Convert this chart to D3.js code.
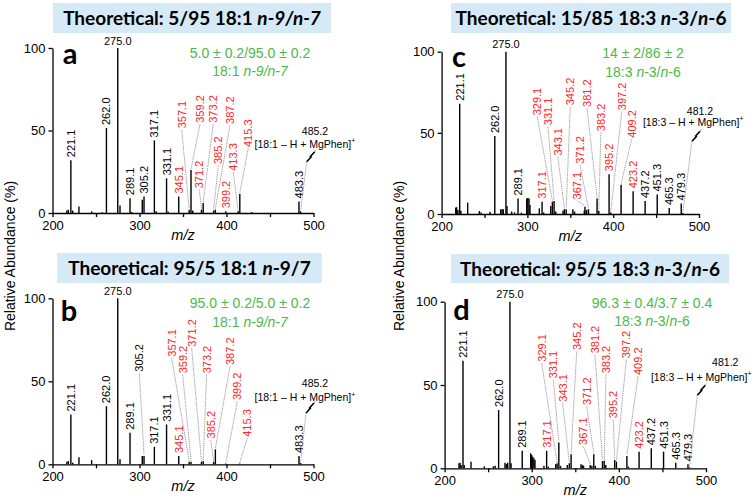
<!DOCTYPE html>
<html><head><meta charset="utf-8">
<script src="https://cdn.jsdelivr.net/npm/d3@7"></script>
<style>body{margin:0;background:#fff}svg{display:block}</style>
</head><body>
<svg id="c" width="756" height="501"></svg>
<script>
// ================= DATA =================
const xTicks = [200, 300, 400, 500];
const xMinorTicks = [250, 350, 450];
const yTicks = [0, 50, 100];
const yTitle = "Relative Abundance (%)";
const xTitle = "m/z";

// peaks: [m/z, relative abundance %]
const peaksA = [[216.5,1.5],[218.2,2],[221.1,32],[223.2,1.5],[230.4,4],[245.0,1],[257,0.5],[262.0,51.5],[275.0,100],[277.6,4.5],[289.1,9],[291,0.6],[303.2,8],[305.2,10],[317.1,44],[319.1,1],[331.1,21],[333,0.8],[345.1,10],[357.1,2],[359.2,26],[361.2,1.5],[371.2,2],[373.2,6],[385.2,1.5],[387.2,2],[399.2,1],[413.3,1],[415.3,11.5],[429.0,0.6],[483.3,7],[485.2,1]];
const peaksB = [[216.5,1.5],[218.2,2],[221.1,30],[223.2,1],[230.4,4.2],[245.0,2.5],[262.0,35],[275.0,100],[277.6,3],[289.1,19],[303.2,5],[305.2,5],[317.1,10.5],[331.1,24],[345.1,5],[357.1,1.5],[359.2,1.5],[371.2,1.5],[373.2,2],[385.2,1.5],[387.2,9],[399.2,0.5],[415.3,0.5],[483.3,5],[485.2,0.8]];
const peaksC = [[216.5,4],[217.6,4.1],[219,2.5],[221.1,68],[222.5,2],[230.4,7],[244,1.8],[246,1],[256.4,1.4],[262.0,48],[268.9,2.9],[270.5,3],[271.9,2.9],[275.0,100],[276.2,5],[281.7,1.5],[285,1],[289.1,9.5],[293,0.8],[299.2,9.6],[300.5,9.8],[301.9,9.6],[303,5.5],[313.9,3.5],[317.1,7.6],[319,1],[327.2,5],[329.1,7.6],[331.1,8],[333,1.5],[341.5,2],[343.1,3],[345.2,3],[353,3],[355,1.5],[366.3,2],[367.1,4.5],[369,2.5],[371.2,3],[381.2,9.6],[383.2,2],[395.2,24.5],[397.2,1],[409.2,18],[423.2,14],[437.2,8],[451.3,12],[465.3,3.7],[479.3,6.5],[481.2,0.6]];
const peaksD = [[216.5,3],[217.7,3.4],[219,2],[221.1,64.5],[222.5,2],[230.3,4],[245.6,1.2],[256,1.2],[258,1.5],[262.0,35],[269.3,3.4],[271,2.5],[272.4,3.4],[275.0,100],[276.3,3],[289.1,10.5],[298.8,9],[300,8],[301.2,7],[302.5,6],[303.7,5],[314,1.5],[317.1,10.5],[319,1],[327.5,2.5],[329.1,3],[331.1,15.5],[333,1.5],[340.8,2],[343.1,3],[345.2,8.4],[356.5,2.5],[358,2],[359.5,1.5],[367.1,2],[369,1.5],[371.2,8.4],[373,1.5],[381.2,4.4],[383.2,4.5],[385,2],[395.2,5],[397.2,4],[409.2,7.4],[411,1],[423.2,10],[437.2,12],[451.3,10],[465.3,3.4],[479.3,2.4],[481.2,0.5]];

// peak labels: [text, diagnostic (red)?]
const labelsA = [["221.1",0],["262.0",0],["275.0",0],["289.1",0],["305.2",0],["317.1",0],["331.1",0],["345.1",1],["357.1",1],["359.2",1],["371.2",1],["373.2",1],["385.2",1],["387.2",1],["399.2",1],["413.3",1],["415.3",1],["483.3",0]];
const labelsB = [["221.1",0],["262.0",0],["275.0",0],["289.1",0],["305.2",0],["317.1",0],["331.1",0],["345.1",1],["357.1",1],["359.2",1],["371.2",1],["373.2",1],["385.2",1],["387.2",1],["399.2",1],["415.3",1],["483.3",0]];
const labelsC = [["221.1",0],["262.0",0],["275.0",0],["289.1",0],["317.1",1],["329.1",1],["331.1",1],["343.1",1],["345.2",1],["367.1",1],["371.2",1],["381.2",1],["383.2",1],["395.2",1],["397.2",1],["409.2",1],["423.2",1],["437.2",0],["451.3",0],["465.3",0],["479.3",0]];
const labelsD = labelsC;

// precursor ions
const ionA = {mz:485.2, text:"485.2", formula:"[18:1 – H + MgPhen]"};
const ionB = {mz:485.2, text:"485.2", formula:"[18:1 – H + MgPhen]"};
const ionC = {mz:481.2, text:"481.2", formula:"[18:3 – H + MgPhen]"};
const ionD = {mz:481.2, text:"481.2", formula:"[18:3 – H + MgPhen]"};

// titles and measured ratios: [text, italic?]
const titleA = [["Theoretical: 5/95 18:1 ",0],["n-9/n-7",1]];
const titleB = [["Theoretical: 95/5 18:1 ",0],["n",1],["-9/7",0]];
const titleC = [["Theoretical: 15/85 18:3 ",0],["n",1],["-3/",0],["n",1],["-6",0]];
const titleD = [["Theoretical: 95/5 18:3 ",0],["n",1],["-3/",0],["n",1],["-6",0]];
const ratioA = ["5.0 ± 0.2/95.0 ± 0.2", [["18:1 ",0],["n-9/n-7",1]]];
const ratioB = ["95.0 ± 0.2/5.0 ± 0.2", [["18:1 ",0],["n-9/n-7",1]]];
const ratioC = ["14 ± 2/86 ± 2", [["18:3 ",0],["n",1],["-3/",0],["n",1],["-6",0]]];
const ratioD = ["96.3 ± 0.4/3.7 ± 0.4", [["18:3 ",0],["n",1],["-3/",0],["n",1],["-6",0]]];

// ================= LAYOUT (annotation placement, in data units m/z , %) =================
const placeA = {"357.1":[348.5,51.3],"359.2":[369.5,54.7],"371.2":[368.8,15],"373.2":[384.8,54.7],"385.2":[390.6,29.7],"387.2":[404,54],"413.3":[407.8,25.6],"415.3":[425,40]};
const placeB = {"305.2":[299.8,55.8],"357.1":[337,64.8],"359.2":[349.6,54.8],"371.2":[360,70.8],"373.2":[377.2,54.8],"385.2":[381.8,15.6],"387.2":[404,59.8],"399.2":[412.4,38.7],"415.3":[424,16.6]};
const placeC = {"329.1":[311.5,60.8],"331.1":[324,54.7],"343.1":[335.5,36],"345.2":[350,67],"367.1":[358,9],"371.2":[361.3,31],"381.2":[369.5,66],"383.2":[385.6,51],"397.2":[410,64],"409.2":[421.5,47]};
const placeD = {"329.1":[311.4,64],"331.1":[324.8,54],"343.1":[335.5,40],"345.2":[351.6,71],"367.1":[359.2,14],"371.2":[363.1,38],"381.2":[372.6,69],"383.2":[385.2,57],"395.2":[393.6,30],"397.2":[408.5,66],"409.2":[422,56]};
const ionPlaceA = {label:[501.7,49.2], formula:[490.2,41.8], bolt:[496.8,34.1]};
const ionPlaceB = {label:[501.7,48.5], formula:[490.2,40.1], bolt:[496.0,33.9]};
const ionPlaceC = {label:[501.1,63.1], formula:[493.3,56.3], bolt:[496.5,47.9]};
const ionPlaceD = {label:[522.1,63.9], formula:[494.6,54.4], bolt:[494.6,46.8]};

const panels = [
  {key:"a", peaks:peaksA, labels:labelsA, place:placeA, ion:ionA, ionPlace:ionPlaceA, title:titleA, ratio:ratioA,
   xr:[52.5,313.5], yr:[213,48], box:[53,3,278,30], letter:[70,64], ratioPos:[250,57.5,75.5]},
  {key:"b", peaks:peaksB, labels:labelsB, place:placeB, ion:ionB, ionPlace:ionPlaceB, title:titleB, ratio:ratioB,
   xr:[52.5,313.5], yr:[464.3,298.3], box:[57,253,265,30], letter:[69,321], ratioPos:[250,308,326.5]},
  {key:"c", peaks:peaksC, labels:labelsC, place:placeC, ion:ionC, ionPlace:ionPlaceC, title:titleC, ratio:ratioC,
   xr:[441.6,699], yr:[214,51.7], box:[451,3,280,30], letter:[459,66.5], ratioPos:[643,58,76.5]},
  {key:"d", peaks:peaksD, labels:labelsD, place:placeD, ion:ionD, ionPlace:ionPlaceD, title:titleD, ratio:ratioD,
   xr:[444.6,706], yr:[468.3,301.7], box:[451,254,278,29], letter:[461.5,320], ratioPos:[652,308,325.5]}
];

const SANS = "'Liberation Sans', Arial, Helvetica, sans-serif";
const HEAD = "Lato, 'Open Sans', sans-serif";
const RED = "#ff2424", GREEN = "#4fb848", LEAD = "#8a8a8a", BOX = "#d6e9f6";

const svg = d3.select("#c");

function segs(sel, arr){ arr.forEach(([s,it]) => sel.append("tspan").text(s).attr("font-style", it ? "italic" : null)); }

panels.forEach(P => {
  const g = svg.append("g");
  const x = d3.scaleLinear().domain([200,500]).range(P.xr);
  const y = d3.scaleLinear().domain([0,100]).range(P.yr);

  // title box
  g.append("rect").attr("x",P.box[0]).attr("y",P.box[1]).attr("width",P.box[2]).attr("height",P.box[3]).attr("fill",BOX);
  const tt = g.append("text").attr("x",P.box[0]+P.box[2]/2).attr("y",P.box[1]+22)
    .attr("text-anchor","middle").attr("font-family",HEAD).attr("font-weight","bold").attr("font-size",19).attr("fill","#000");
  segs(tt, P.title);

  // panel letter
  g.append("text").attr("x",P.letter[0]).attr("y",P.letter[1]).attr("text-anchor","middle")
    .attr("font-family",HEAD).attr("font-weight","bold").attr("font-size",29).text(P.key);

  // ratio text
  g.append("text").attr("x",P.ratioPos[0]).attr("y",P.ratioPos[1]).attr("text-anchor","middle")
    .attr("font-family",SANS).attr("font-size",14).attr("fill",GREEN).text(P.ratio[0]);
  const r2 = g.append("text").attr("x",P.ratioPos[0]).attr("y",P.ratioPos[2]).attr("text-anchor","middle")
    .attr("font-family",SANS).attr("font-size",14).attr("fill",GREEN);
  segs(r2, P.ratio[1]);

  // axes
  const xa = g.append("g").attr("transform",`translate(0,${y(0)})`)
    .call(d3.axisBottom(x).tickValues([...xTicks,...xMinorTicks].sort((a,b)=>a-b))
      .tickFormat(d => xTicks.includes(d) ? d : "").tickSize(4).tickSizeOuter(0));
  const ya = g.append("g").attr("transform",`translate(${x(200)},0)`)
    .call(d3.axisLeft(y).tickValues(yTicks).tickSize(4).tickSizeOuter(0));
  [xa,ya].forEach(a => {
    a.selectAll("path,line").attr("stroke","#000").attr("stroke-width",1.3);
    a.selectAll("text").attr("font-family",SANS).attr("font-size",13).attr("fill","#000");
  });
  xa.selectAll("text").attr("y",7.5);
  g.append("text").attr("x",(P.xr[0]+P.xr[1])/2).attr("y",y(0)+27).attr("text-anchor","middle")
    .attr("font-family",SANS).attr("font-style","italic").attr("font-size",14.5).text(xTitle);

  // peaks
  g.append("g").selectAll("line").data(P.peaks).join("line")
    .attr("x1",d=>x(d[0])).attr("x2",d=>x(d[0])).attr("y1",y(0)).attr("y2",d=>y(d[1]))
    .attr("stroke","#000").attr("stroke-width",1.4);

  const nearest = mz => P.peaks.reduce((a,b) => Math.abs(b[0]-mz) < Math.abs(a[0]-mz) ? b : a);

  // labels
  const lg = g.append("g").attr("font-family",SANS).attr("font-size",11);
  P.labels.forEach(([txt, red]) => {
    const pk = nearest(+txt);
    const col = red ? RED : "#000";
    if (pk[1] >= 100) {
      lg.append("text").attr("x",x(pk[0])).attr("y",y(pk[1])-3.5).attr("text-anchor","middle").attr("fill",col).text(txt);
      return;
    }
    const pl = P.place[txt];
    let px, py;
    if (pl) {
      px = x(pl[0]); py = y(pl[1]);
      lg.append("line").attr("x1",px).attr("y1",py+1.5).attr("x2",x(pk[0])).attr("y2",y(pk[1])-1)
        .attr("stroke",LEAD).attr("stroke-width",0.8).attr("stroke-dasharray","1.4,0.8");
    } else {
      px = x(pk[0]); py = y(pk[1]) - 3;
    }
    lg.append("text").attr("transform",`translate(${px},${py}) rotate(-90)`).attr("dy","0.36em")
      .attr("fill",col).text(txt);
  });

  // precursor ion annotation
  const ip = P.ionPlace, pk = nearest(P.ion.mz);
  lg.append("text").attr("x",x(ip.label[0])).attr("y",y(ip.label[1])).attr("dy","0.35em").attr("text-anchor","middle")
    .attr("font-size",10.5).text(P.ion.text);
  const ft = lg.append("text").attr("x",x(ip.formula[0])).attr("y",y(ip.formula[1])).attr("dy","0.35em").attr("text-anchor","middle")
    .attr("font-size",10.5);
  ft.append("tspan").text(P.ion.formula);
  ft.append("tspan").text("+").attr("font-size",7).attr("dy","-0.7em");
  const bx = x(ip.bolt[0]), by = y(ip.bolt[1]);
  lg.append("path").attr("d",`M${bx-4},${by+5}L${bx+0.8},${by-0.3}L${bx-0.8},${by+0.3}L${bx+4},${by-5}`)
    .attr("fill","none").attr("stroke","#000").attr("stroke-width",1.6).attr("stroke-linejoin","miter");
  lg.append("line").attr("x1",bx-4).attr("y1",by+5).attr("x2",x(pk[0])).attr("y2",y(pk[1])-1)
    .attr("stroke",LEAD).attr("stroke-width",0.8).attr("stroke-dasharray","1.4,0.8");
  lg.append("line").attr("x1",bx+4).attr("y1",by-5).attr("x2",bx+5).attr("y2",by-7)
    .attr("stroke",LEAD).attr("stroke-width",0.8);
});

// y axis titles
[[10,256],[399,256]].forEach(([cx,cy]) => {
  svg.append("text").attr("transform",`translate(${cx},${cy}) rotate(-90)`).attr("dy","0.35em")
    .attr("text-anchor","middle").attr("font-family",SANS).attr("font-size",14).text(yTitle);
});
</script>
</body></html>
